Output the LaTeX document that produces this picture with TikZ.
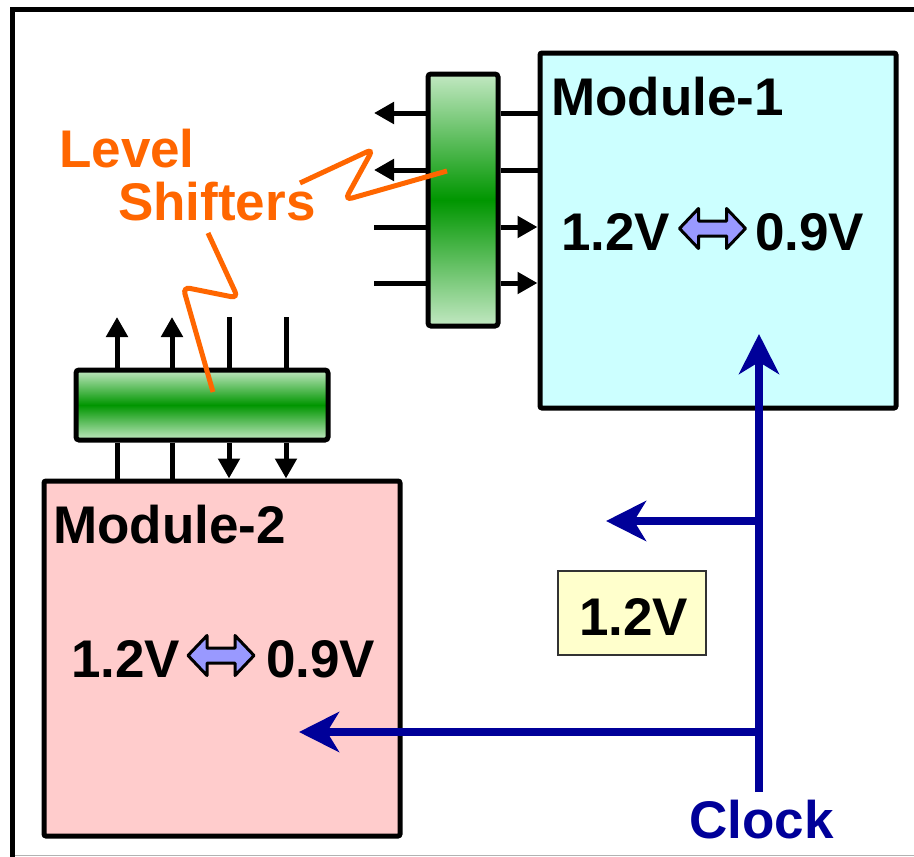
\documentclass[tikz,border=0pt]{standalone}
\usepackage{fontspec}
\setmainfont{Liberation Sans}
\usetikzlibrary{arrows.meta}
\definecolor{mcyan}{HTML}{CCFFFF}
\definecolor{mpink}{HTML}{FFCCCC}
\definecolor{myellow}{HTML}{FFFFCC}
\definecolor{arrfill}{HTML}{9999FF}
\definecolor{clkblue}{HTML}{000099}
\definecolor{lsorange}{HTML}{FF6600}
\definecolor{lslight}{HTML}{C2E8C2}
\definecolor{lsdark}{HTML}{009600}
\begin{document}
\begin{tikzpicture}[x=1pt,y=-1pt,
  lbl/.style={font=\fontsize{53}{55}\selectfont\bfseries, inner sep=0pt, anchor=base west},
  module/.style={draw=black, line width=5pt, rounded corners=2pt, inner sep=0pt},
  shifter/.style={draw=black, line width=5pt, rounded corners=3pt, inner sep=0pt,
    top color=lslight, bottom color=lslight, middle color=lsdark},
  stub/.style={line width=5pt},
  stubtip/.style={-{Triangle[length=20pt,width=21pt]}},
  clockline/.style={draw=clkblue, line width=8pt},
  clocktip/.style={-{Stealth[length=40pt,width=40pt,inset=12pt]}},
  squiggle/.style={draw=lsorange, line width=5pt, rounded corners=7pt},
  dblarr/.pic={\draw[line width=3pt, line join=round, fill=arrfill]
    (-33,0) -- (-14,-20) -- (-14,-7.5) -- (14,-7.5) -- (14,-20) -- (33,0)
    -- (14,20) -- (14,7.5) -- (-14,7.5) -- (-14,20) -- cycle;}
]
\useasboundingbox (0,0) rectangle (914,857);
% outer frame
\coordinate (fTL) at (12.5,9.5);
\coordinate (fTR) at (914,9.5);
\coordinate (fBL) at (12.5,857);
\coordinate (gL) at (15,855.5);
\coordinate (gR) at (914,855.5);
\draw[line width=5pt] (fTR) -- (fTL) -- (fBL);
\draw[gray!60, line width=1.2pt] (gL) -- (gR);

% modules
\node[module, fill=mcyan, minimum width=356pt, minimum height=355pt] (m1) at (718,230.5) {};
\node[module, fill=mpink, minimum width=356pt, minimum height=355pt] (m2) at (222,658.5) {};

% level shifter bars
\node[shifter, minimum width=70pt, minimum height=252pt] (vb) at (463,200) {};
\node[shifter, minimum width=252pt, minimum height=70pt] (hb) at (202,405) {};

% stubs of vertical bar
\coordinate (r1) at (374,113);
\coordinate (r2) at (374,170);
\coordinate (r3) at (374,227);
\coordinate (r4) at (374,283);
\draw[stub,stubtip] (vb.west |- r1) -- (r1);
\draw[stub,stubtip] (vb.west |- r2) -- (r2);
\draw[stub] (r3) -- (vb.west |- r3);
\draw[stub] (r4) -- (vb.west |- r4);
\draw[stub] (vb.east |- r1) -- (m1.west |- r1);
\draw[stub] (vb.east |- r2) -- (m1.west |- r2);
\draw[stub,stubtip] (vb.east |- r3) -- (m1.west |- r3);
\draw[stub,stubtip] (vb.east |- r4) -- (m1.west |- r4);

% stubs of horizontal bar
\coordinate (c1) at (117,317);
\coordinate (c2) at (172,317);
\coordinate (c3) at (229,317);
\coordinate (c4) at (286,317);
\draw[stub,stubtip] (hb.north -| c1) -- (c1);
\draw[stub,stubtip] (hb.north -| c2) -- (c2);
\draw[stub] (c3) -- (hb.north -| c3);
\draw[stub] (c4) -- (hb.north -| c4);
\draw[stub] (hb.south -| c1) -- (m2.north -| c1);
\draw[stub] (hb.south -| c2) -- (m2.north -| c2);
\draw[stub,stubtip] (hb.south -| c3) -- (m2.north -| c3);
\draw[stub,stubtip] (hb.south -| c4) -- (m2.north -| c4);

% texts in modules
\node[lbl] (m1t) at (551,115) {Module-1};
\node[lbl] (m1a) at (561,250) {1.2V};
\node[lbl] (m1b) at (755,250) {0.9V};
\pic at (712.5,228.5) {dblarr};
\node[lbl] (m2t) at (53,543) {Module-2};
\node[lbl] (m2a) at (71,677) {1.2V};
\node[lbl] (m2b) at (266,677) {0.9V};
\pic at (221,655.5) {dblarr};

% yellow box
\node[draw=black!80, line width=1.5pt, fill=myellow, minimum width=148pt, minimum height=84pt, inner sep=0pt] (yb) at (632,613) {};
\node[lbl] (ybt) at (579,635) {1.2V};

% clock
\node[lbl, text=clkblue] (clk) at (689,838) {Clock};
\coordinate (cbot) at (759,792);
\coordinate (ctop) at (759,334);
\coordinate (j1) at (759,521);
\coordinate (j2) at (759,732);
\coordinate (e1) at (606,521);
\coordinate (e2) at (299,732);
\draw[clockline,clocktip] (cbot) -- (ctop);
\draw[clockline,clocktip] (j1) -- (e1);
\draw[clockline,clocktip] (j2) -- (e2);

% level shifters label and squiggles
\node[lbl, text=lsorange] (ls1) at (59,167) {Level};
\node[lbl, text=lsorange] (ls2) at (118,220) {Shifters};
\coordinate (s1a) at (300,183);
\coordinate (s1b) at (373,149);
\coordinate (s1c) at (345,200);
\coordinate (s1d) at (447,171);
\draw[squiggle] (s1a) -- (s1b) -- (s1c) -- (s1d);
\coordinate (s2a) at (208,233);
\coordinate (s2b) at (238,298);
\coordinate (s2c) at (183,287);
\coordinate (s2d) at (213,392);
\draw[squiggle] (s2a) -- (s2b) -- (s2c) -- (s2d);
\end{tikzpicture}
\end{document}
